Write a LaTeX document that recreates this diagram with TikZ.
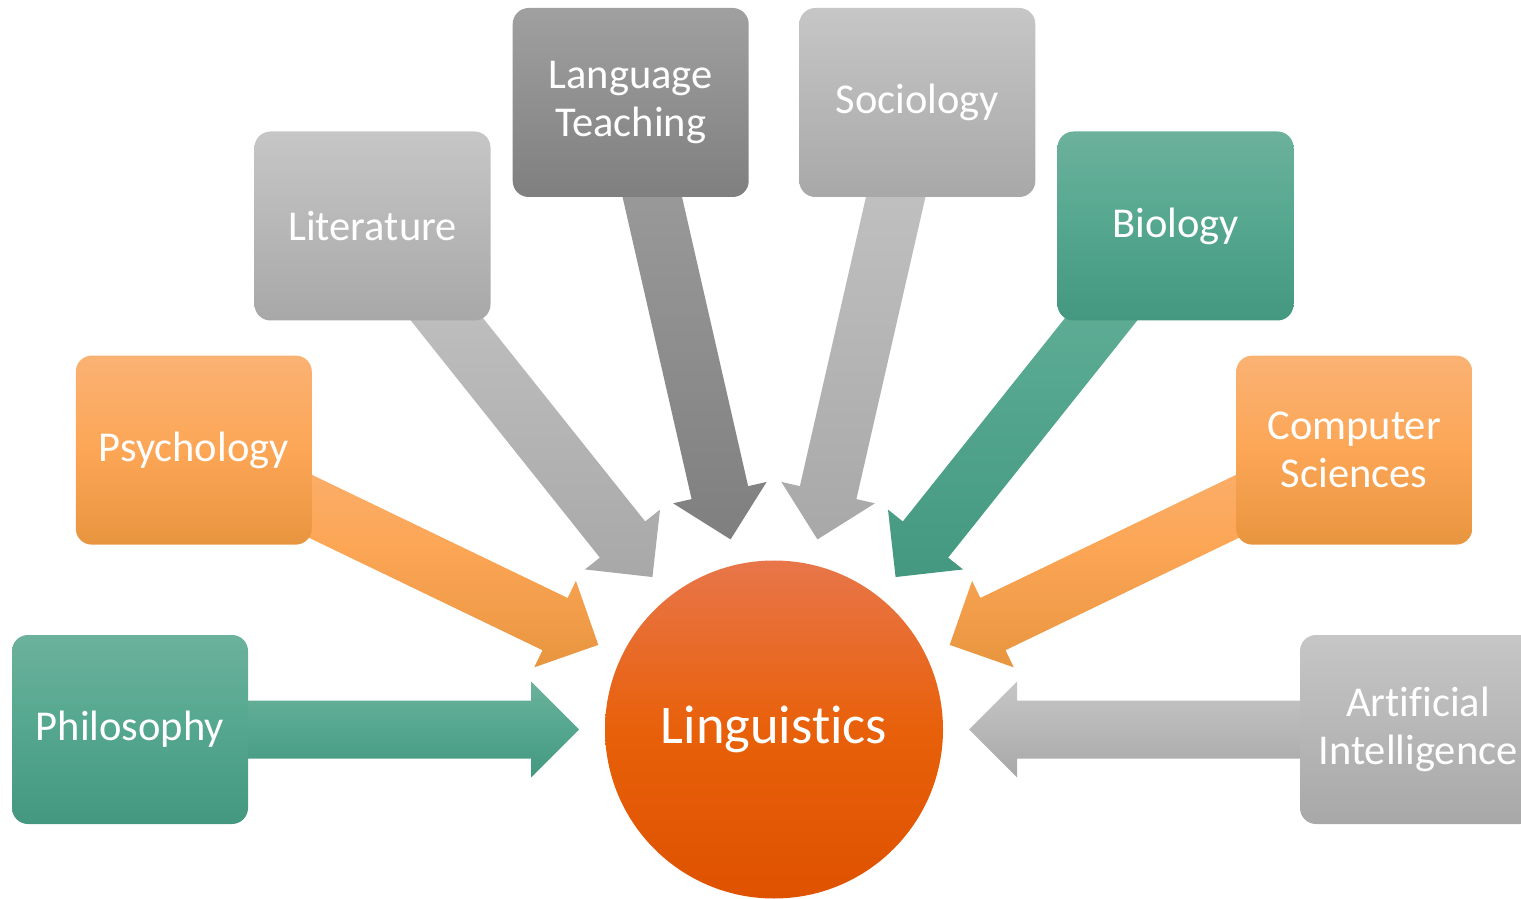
\documentclass[tikz,border=0pt]{standalone}
\usepackage{fontspec}
\setmainfont{Carlito}[Ligatures={CommonOff,ContextualOff}]
\usepackage{tikz}
\usetikzlibrary{calc}
\usetikzlibrary{backgrounds}
\definecolor{tealtop}{RGB}{108,177,156}
\definecolor{tealmid}{RGB}{84,167,142}
\definecolor{tealbot}{RGB}{69,152,128}
\definecolor{orangetop}{RGB}{250,178,115}
\definecolor{orangemid}{RGB}{252,166,86}
\definecolor{orangebot}{RGB}{232,149,63}
\definecolor{greytop}{RGB}{198,198,198}
\definecolor{greybot}{RGB}{168,168,168}
\definecolor{darkgreytop}{RGB}{160,160,160}
\definecolor{darkgreybot}{RGB}{127,127,127}
\definecolor{lingtop}{RGB}{232,118,74}
\definecolor{lingmid}{RGB}{232,96,10}
\definecolor{lingbot}{RGB}{222,82,0}

\begin{document}
\begin{tikzpicture}[x=1pt,y=1pt,
    field/.style={rounded corners=16pt, minimum width=236pt, minimum height=189pt,
      align=center, text=white, font=\fontsize{42.5}{48}\selectfont},
    teal/.style={top color=tealtop, bottom color=tealbot, middle color=tealmid},
    orange/.style={top color=orangetop, bottom color=orangebot, middle color=orangemid},
    grey/.style={top color=greytop, bottom color=greybot},
    darkgrey/.style={top color=darkgreytop, bottom color=darkgreybot},
    link/.style={to path={
      let \p1=(\tikztostart), \p2=(\tikztotarget), \p3=($(\p2)!195pt!(\p1)$),
          \n1={atan2(\y2-\y1,\x2-\x1)}, \p4=($(\p3)+(\n1:-48pt)$) in
      ($(\p1)+(\n1+90:29pt)$) -- ($(\p4)+(\n1+90:29pt)$) -- ($(\p4)+(\n1+90:48pt)$) -- (\p3)
      -- ($(\p4)+(\n1-90:48pt)$) -- ($(\p4)+(\n1-90:29pt)$) -- ($(\p1)+(\n1-90:29pt)$) -- cycle}}]
  \useasboundingbox (0,0) rectangle (1521,898);

  \node[circle, minimum size=338pt, top color=lingtop, bottom color=lingbot, middle color=lingmid,
    text=white, font=\fontsize{54.5}{62}\selectfont] (ling) at (774,168.5) {Linguistics};

  \node[field,teal]     (phil)  at (130,168.5)    {Philosophy};
  \node[field,orange]   (psy)   at (193.8,447.9)  {Psychology};
  \node[field,grey]     (lit)   at (372.5,672)    {Literature};
  \node[field,darkgrey] (teach) at (630.7,795.5)  {Language\\Teaching};
  \node[field,grey]     (soc)   at (917.3,795.5)  {Sociology};
  \node[field,teal]     (bio)   at (1175.5,672)   {Biology};
  \node[field,orange]   (cs)    at (1354.2,447.9) {Computer\\Sciences};
  \node[field,grey]     (ai)    at (1418,168.5)   {Artificial\\Intelligence};

  \begin{scope}[on background layer]
    \shade[link,teal]     (phil)  to (ling);
    \shade[link,orange]   (psy)   to (ling);
    \shade[link,grey]     (lit)   to (ling);
    \shade[link,darkgrey] (teach) to (ling);
    \shade[link,grey]     (soc)   to (ling);
    \shade[link,teal]     (bio)   to (ling);
    \shade[link,orange]   (cs)    to (ling);
    \shade[link,grey]     (ai)    to (ling);
  \end{scope}
\end{tikzpicture}
\end{document}
